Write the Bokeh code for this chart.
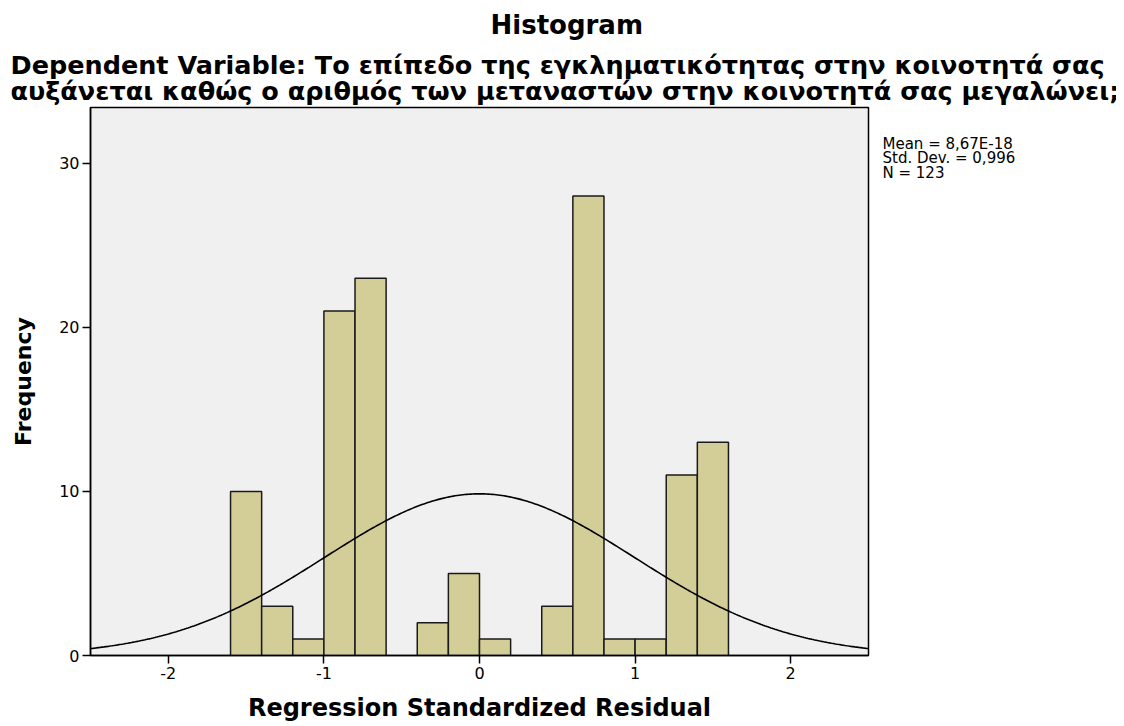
import numpy as np
from bokeh.plotting import figure
from bokeh.models import Title, FixedTicker, Range1d, LinearAxis
from bokeh.embed import file_html
from bokeh.resources import INLINE

# Bin edges (left) and frequencies
bin_left = [-1.6, -1.4, -1.2, -1.0, -0.8, -0.4, -0.2, 0.0, 0.4, 0.6, 0.8, 1.0, 1.2, 1.4]
freq = [10, 3, 1, 21, 23, 2, 5, 1, 3, 28, 1, 1, 11, 13]
bin_width = 0.2
mean_val = 8.67e-18
std_val = 0.996
n_val = 123
x_ticks = [-2, -1, 0, 1, 2]
x_tick_labels = ["-2", "-1", "0", "1", "2"]
y_ticks = [0, 10, 20, 30]
stats_lines = ["Mean = 8,67E-18", "Std. Dev. = 0,996", "N = 123"]

TITLE = "Histogram"
SUBTITLE = ("Dependent Variable: Το επίπεδο της εγκληματικότητας στην κοινοτητά σας\n"
            "αυξάνεται καθώς ο αριθμός των μεταναστών στην κοινοτητά σας μεγαλώνει;")

BOLD_FONT = "DejaVu Sans"
REG_FONT = "DejaVu Sans"
STATS_ANCHOR = 30.3  # vertical anchor (y units) for the statistics text block

p = figure(width=1116, height=724, output_backend="svg", toolbar_location=None,
           x_range=Range1d(-2.5, 2.5), y_range=Range1d(0, 33.4),
           min_border_left=90, min_border_right=248, min_border_bottom=68, min_border_top=0)

p.border_fill_color = "white"
p.background_fill_color = "#f0f0f0"
p.outline_line_color = "black"
p.outline_line_width = 1.5
p.xgrid.visible = False
p.ygrid.visible = False

left = np.array(bin_left)
p.quad(left=left, right=left + bin_width, bottom=0, top=freq,
       fill_color="#d3ce97", line_color="#1a1a1a", line_width=1.5)

xs = np.linspace(-2.5, 2.5, 400)
ys = n_val * bin_width * np.exp(-0.5 * ((xs - mean_val) / std_val) ** 2) / (std_val * np.sqrt(2 * np.pi))
p.line(xs, ys, line_color="black", line_width=1.6)

for ax in (p.xaxis[0], p.yaxis[0]):
    ax.axis_line_color = "black"
    ax.axis_line_width = 1.5
    ax.major_tick_line_color = "black"
    ax.major_tick_line_width = 1.5
    ax.major_tick_out = 8
    ax.major_tick_in = 0
    ax.minor_tick_line_color = None
    ax.major_label_text_font = REG_FONT
    ax.major_label_text_font_size = "16px"
    ax.major_label_text_color = "black"
    ax.axis_label_text_font = BOLD_FONT
    ax.axis_label_text_font_style = "bold"
    ax.axis_label_text_font_size = "24px"
    ax.axis_label_text_color = "black"

p.xaxis.ticker = FixedTicker(ticks=x_ticks)
p.xaxis.major_label_overrides = dict(zip(x_ticks, x_tick_labels))
p.yaxis.ticker = FixedTicker(ticks=y_ticks)
p.xaxis.axis_label = "Regression Standardized Residual"
p.yaxis.axis_label = "Frequency"
p.xaxis.major_label_standoff = 3
p.xaxis.axis_label_standoff = 12
p.yaxis.major_label_standoff = 3
p.yaxis.axis_label_standoff = 20
p.yaxis.axis_label_text_font_size = "22px"

# Statistics text block, rendered as the single label of a bare right-hand axis
stats_axis = LinearAxis(ticker=FixedTicker(ticks=[STATS_ANCHOR]),
                        major_label_overrides={STATS_ANCHOR: "\n".join(stats_lines)},
                        axis_line_color=None, major_tick_line_color=None,
                        minor_tick_line_color=None, major_tick_out=0, major_tick_in=0,
                        major_label_standoff=14, major_label_text_font=REG_FONT,
                        major_label_text_font_size="15px", major_label_text_color="black",
                        major_label_text_line_height=0.8)
p.add_layout(stats_axis, "right")

sub = Title(text=SUBTITLE, align="left", text_font=BOLD_FONT, text_font_style="bold",
            text_font_size="25.5px", text_color="black", text_line_height=0.88, standoff=2,
            offset=-80)
p.add_layout(sub, "above")
ttl = Title(text=TITLE, align="left", text_font=BOLD_FONT, text_font_style="bold",
            text_font_size="26px", text_color="black", text_line_height=0.8,
            standoff=15, offset=400)
p.add_layout(ttl, "above")

open("out.html", "w").write(file_html(p, INLINE))
